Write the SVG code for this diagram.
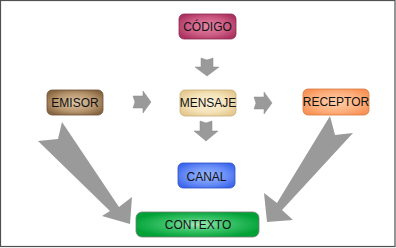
<svg xmlns="http://www.w3.org/2000/svg" width="396" height="248" viewBox="0 0 396 248">
  <style>
    .lbl { font-family: "Liberation Sans", Arial, sans-serif; font-size: 12px; fill: #111; text-anchor: middle; }
    .arr { fill: #9a9a9a; }
    .sarr { fill: #9a9a9a; stroke: #8a8a8a; stroke-width: 0.5; }
  </style>
  <defs>
    <radialGradient id="gCod" cx="0.5" cy="0.5" r="0.6"><stop offset="0" stop-color="#e488a8"/><stop offset="0.6" stop-color="#cc5a82"/><stop offset="1" stop-color="#a9325e"/></radialGradient>
    <radialGradient id="gEmi" cx="0.5" cy="0.5" r="0.6"><stop offset="0" stop-color="#dcc6a6"/><stop offset="0.6" stop-color="#b8966e"/><stop offset="1" stop-color="#86643f"/></radialGradient>
    <radialGradient id="gMen" cx="0.5" cy="0.5" r="0.6"><stop offset="0" stop-color="#fcf2dc"/><stop offset="0.6" stop-color="#f4e2b8"/><stop offset="1" stop-color="#e4c88e"/></radialGradient>
    <radialGradient id="gRec" cx="0.5" cy="0.5" r="0.6"><stop offset="0" stop-color="#ffcfaa"/><stop offset="0.6" stop-color="#ffb07e"/><stop offset="1" stop-color="#f79256"/></radialGradient>
    <radialGradient id="gCan" cx="0.5" cy="0.5" r="0.6"><stop offset="0" stop-color="#9ab8ff"/><stop offset="0.6" stop-color="#6a8ef8"/><stop offset="1" stop-color="#3c66ec"/></radialGradient>
    <radialGradient id="gCtx" cx="0.5" cy="0.5" r="0.55"><stop offset="0" stop-color="#a8ecbe"/><stop offset="0.45" stop-color="#3cc46a"/><stop offset="1" stop-color="#00a136"/></radialGradient>
  </defs>

  <rect x="0.5" y="0.5" width="394.5" height="246" fill="#ffffff" stroke="#505050" stroke-width="1.2"/>

  <g id="connectors">
    <polygon class="sarr" points="201,58 207,60 213,58 213,67 219,67 207,76 195,67 201,67"/>
    <polygon class="sarr" points="200,121 206,123 212,121 212,131 218,131 206,141 194,131 200,131"/>
    <polygon class="sarr" points="133,96 143,96 143,91 151,102 143,113 143,108 133,108 135,102"/>
    <polygon class="sarr" points="254,97 264,97 264,92 272,103 264,114 264,109 254,109 256,103"/>
    <polygon class="arr" points="62,122 119,207 132,197 130,224 102,216 110,211 38,141 58,139"/>
    <polygon class="arr" points="330,116 335,135 353,133 282,210 293,220 267,222 264,193 277,203"/>
  </g>

  <g id="codigo">
    <rect x="179" y="14" width="57" height="25" rx="5" fill="url(#gCod)" stroke="#8e2a50" stroke-width="0.8"/>
    <text class="lbl" x="207.5" y="31.3">CÓDIGO</text>
  </g>
  <g id="emisor">
    <rect x="47" y="90" width="56" height="25" rx="5" fill="url(#gEmi)" stroke="#6e5236" stroke-width="0.8"/>
    <text class="lbl" x="75" y="106.8">EMISOR</text>
  </g>
  <g id="mensaje">
    <rect x="180" y="90" width="56" height="26" rx="5" fill="url(#gMen)" stroke="#c8ac78" stroke-width="0.8"/>
    <text class="lbl" x="208" y="107.3">MENSAJE</text>
  </g>
  <g id="receptor">
    <rect x="303" y="89" width="66" height="26" rx="5" fill="url(#gRec)" stroke="#d9783e" stroke-width="0.8"/>
    <text class="lbl" x="336" y="106.3">RECEPTOR</text>
  </g>
  <g id="canal">
    <rect x="178" y="163" width="57" height="25" rx="5" fill="url(#gCan)" stroke="#2d4fbf" stroke-width="0.8"/>
    <text class="lbl" x="206.5" y="180.5">CANAL</text>
  </g>
  <g id="contexto">
    <rect x="136" y="212" width="123" height="25" rx="6" fill="url(#gCtx)" stroke="#7a7a7a" stroke-width="0.8"/>
    <text class="lbl" x="198" y="229">CONTEXTO</text>
  </g>
</svg>
